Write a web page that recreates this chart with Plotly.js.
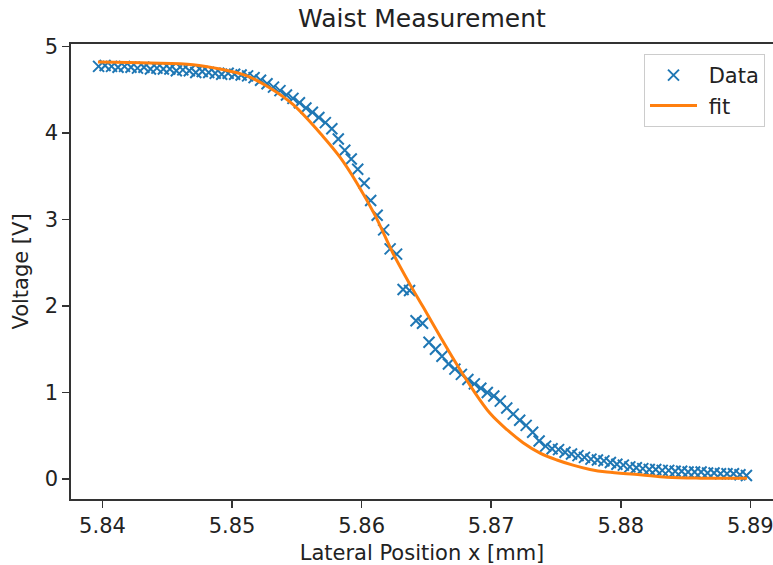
<!DOCTYPE html>
<html>
<head>
<meta charset="utf-8">
<script src="https://cdn.plot.ly/plotly-3.0.1.min.js"></script>
<style>html,body{margin:0;padding:0;background:#fff;}#chart{width:773px;height:565px;}</style>
</head>
<body>
<div id="chart"></div>
<script>
const xData = [5.8397, 5.8402, 5.8407, 5.8412, 5.8417, 5.8422, 5.8427, 5.8432, 5.8437, 5.8442,
  5.8447, 5.8452, 5.8457, 5.8462, 5.8467, 5.8472, 5.8477, 5.8482, 5.8487, 5.8492,
  5.8497, 5.8502, 5.8507, 5.8512, 5.8517, 5.8522, 5.8527, 5.8532, 5.8537, 5.8542,
  5.8547, 5.8552, 5.8557, 5.8562, 5.8567, 5.8572, 5.8577, 5.8582, 5.8587, 5.8592,
  5.8597, 5.8602, 5.8607, 5.8612, 5.8617, 5.8622, 5.8627, 5.8632, 5.8637, 5.8642,
  5.8647, 5.8652, 5.8657, 5.8662, 5.8667, 5.8672, 5.8677, 5.8682, 5.8687, 5.8692,
  5.8697, 5.8702, 5.8707, 5.8712, 5.8717, 5.8722, 5.8727, 5.8732, 5.8737, 5.8742,
  5.8747, 5.8752, 5.8757, 5.8762, 5.8767, 5.8772, 5.8777, 5.8782, 5.8787, 5.8792,
  5.8797, 5.8802, 5.8807, 5.8812, 5.8817, 5.8822, 5.8827, 5.8832, 5.8837, 5.8842,
  5.8847, 5.8852, 5.8857, 5.8862, 5.8867, 5.8872, 5.8877, 5.8882, 5.8887, 5.8892,
  5.8897];
const yData = [4.77, 4.78, 4.77, 4.76, 4.77, 4.76, 4.75, 4.76, 4.74, 4.75,
  4.74, 4.74, 4.72, 4.73, 4.72, 4.70, 4.71, 4.70, 4.69, 4.68,
  4.69, 4.68, 4.67, 4.66, 4.64, 4.61, 4.57, 4.53, 4.49, 4.44,
  4.40, 4.35, 4.29, 4.24, 4.18, 4.12, 4.05, 3.93, 3.80, 3.70,
  3.58, 3.42, 3.22, 3.05, 2.88, 2.66, 2.60, 2.19, 2.18, 1.83,
  1.80, 1.58, 1.50, 1.42, 1.33, 1.27, 1.21, 1.15, 1.10, 1.05,
  1.00, 0.96, 0.90, 0.82, 0.75, 0.68, 0.62, 0.54, 0.44, 0.38,
  0.35, 0.34, 0.31, 0.29, 0.27, 0.25, 0.23, 0.22, 0.21, 0.19,
  0.17, 0.16, 0.14, 0.13, 0.12, 0.11, 0.11, 0.10, 0.10, 0.09,
  0.09, 0.08, 0.08, 0.08, 0.07, 0.07, 0.06, 0.06, 0.06, 0.05,
  0.04];
const xFit = [5.83965, 5.84367, 5.84699, 5.84907, 5.85115, 5.85293, 5.85470, 5.85702, 5.85833, 5.85964,
  5.86103, 5.86242, 5.86373, 5.86474, 5.86605, 5.86736, 5.86860, 5.86991, 5.87122, 5.87246,
  5.87377, 5.87508, 5.87631, 5.87763, 5.87894, 5.88149, 5.88357, 5.88612, 5.88975];
const yFit = [4.82, 4.81, 4.79, 4.74, 4.66, 4.52, 4.33, 3.96, 3.72, 3.42,
  3.05, 2.61, 2.25, 1.99, 1.65, 1.32, 1.03, 0.76, 0.57, 0.42,
  0.30, 0.22, 0.16, 0.11, 0.08, 0.05, 0.02, 0.01, 0.01];
const xTicks = [5.84, 5.85, 5.86, 5.87, 5.88, 5.89];
const xTickText = ['5.84', '5.85', '5.86', '5.87', '5.88', '5.89'];
const yTicks = [0, 1, 2, 3, 4, 5];
const seriesNames = ['\u00a0Data', '\u00a0fit'];

const font = 'DejaVu Sans, sans-serif';
const traces = [
  {x: xData, y: yData, name: seriesNames[0], mode: 'markers', type: 'scatter',
   marker: {symbol: 'x-thin', size: 11, color: '#1f77b4', line: {width: 2, color: '#1f77b4'}}},
  {x: xFit, y: yFit, name: seriesNames[1], mode: 'lines', type: 'scatter',
   line: {color: '#ff7f0e', width: 3, shape: 'spline'}}
];
const layout = {
  width: 773, height: 565,
  margin: {l: 71, r: 0, t: 44, b: 66, pad: 0},
  paper_bgcolor: '#fff', plot_bgcolor: '#fff',
  font: {family: font, size: 21, color: '#222'},
  title: {text: 'Waist Measurement', font: {family: font, size: 25, color: '#222'}, x: 0.5, xref: 'paper', y: 0.968, yanchor: 'middle'},
  xaxis: {range: [5.83757, 5.89175], tickvals: xTicks, ticktext: xTickText,
    showgrid: false, zeroline: false, showline: true, mirror: true, linecolor: '#333', linewidth: 1.6,
    ticks: 'outside', ticklen: 7, tickwidth: 1.6, tickcolor: '#333', ticklabeloverflow: 'allow',
    tickfont: {family: font, size: 21, color: '#222'},
    title: {text: 'Lateral Position x [mm]', font: {family: font, size: 21, color: '#222'}, standoff: 8}},
  yaxis: {range: [-0.2312, 5.0289], tickvals: yTicks,
    showgrid: false, zeroline: false, showline: true, mirror: false, linecolor: '#333', linewidth: 1.6,
    ticks: 'outside', ticklen: 7, tickwidth: 1.6, tickcolor: '#333',
    tickfont: {family: font, size: 21, color: '#222'},
    title: {text: 'Voltage [V]', font: {family: font, size: 21, color: '#222'}, standoff: 10}},
  legend: {x: 0.9886, xanchor: 'right', y: 0.978, yanchor: 'top',
    bgcolor: 'rgba(255,255,255,0.8)', bordercolor: '#cccccc', borderwidth: 1,
    font: {family: font, size: 21, color: '#222'}, itemwidth: 47},
  showlegend: true
};
Plotly.newPlot('chart', traces, layout, {displayModeBar: false, staticPlot: true});
</script>
</body>
</html>
